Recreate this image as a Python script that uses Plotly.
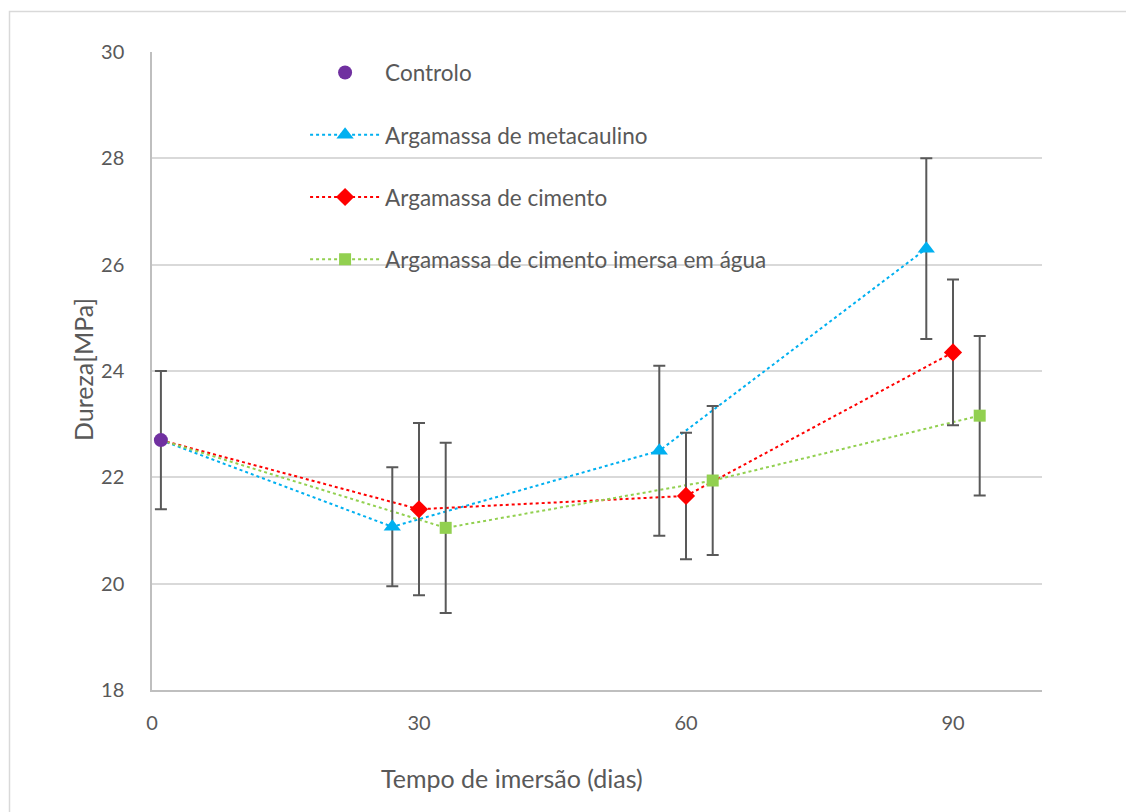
import plotly.graph_objects as go

# ---- data ----
x_controlo = [1]
y_controlo = [22.7]
e_controlo = [1.3]

x_meta = [27, 57, 87]
y_meta = [21.07, 22.5, 26.3]
e_meta = [1.12, 1.6, 1.7]

x_cim = [30, 60, 90]
y_cim = [21.4, 21.65, 24.35]
e_cim = [1.62, 1.19, 1.37]

x_agua = [33, 63, 93]
y_agua = [21.05, 21.94, 23.16]
e_agua = [1.6, 1.4, 1.5]

names = ["Controlo", "Argamassa de metacaulino", "Argamassa de cimento",
         "Argamassa de cimento imersa em água"]
x_ticks = [0, 30, 60, 90]
y_ticks = [18, 20, 22, 24, 26, 28, 30]

# ---- styles ----
C_CTRL = "#7030A0"
C_META = "#00B0F0"
C_CIM = "#FF0000"
C_AGUA = "#92D050"
ERR = dict(type="data", visible=True, color="#595959", thickness=2, width=6)
FONT = "Lato, 'Open Sans', sans-serif"
TXT = "#595959"

fig = go.Figure()

series = [
    (x_meta, y_meta, e_meta, C_META, "triangle-up", 15),
    (x_cim, y_cim, e_cim, C_CIM, "diamond", 14),
    (x_agua, y_agua, e_agua, C_AGUA, "square", 12),
]

# dotted connecting lines (start at the control point)
for xs, ys, es, col, sym, sz in series:
    fig.add_trace(go.Scatter(x=x_controlo + xs, y=y_controlo + ys, mode="lines",
                             line=dict(color=col, width=2, dash="dot"),
                             showlegend=False, hoverinfo="skip"))

# markers with error bars
for xs, ys, es, col, sym, sz in series:
    fig.add_trace(go.Scatter(x=xs, y=ys, mode="markers",
                             marker=dict(color=col, symbol=sym, size=sz),
                             error_y=dict(array=es, **ERR), showlegend=False))

fig.add_trace(go.Scatter(x=x_controlo, y=y_controlo, mode="markers",
                         marker=dict(color=C_CTRL, symbol="circle", size=14),
                         error_y=dict(array=e_controlo, **ERR), showlegend=False))

# legend entries
leg = [
    (names[0], "markers", C_CTRL, "circle", 14),
    (names[1], "lines+markers", C_META, "triangle-up", 15),
    (names[2], "lines+markers", C_CIM, "diamond", 14),
    (names[3], "lines+markers", C_AGUA, "square", 12),
]
for i, (nm, md, col, sym, sz) in enumerate(leg):
    fig.add_trace(go.Scatter(x=[None], y=[None], mode=md, name=nm,
                             legendgroup=f"g{i}",
                             line=dict(color=col, width=2, dash="dot"),
                             marker=dict(color=col, symbol=sym, size=sz)))

fig.update_layout(
    width=1126, height=812,
    margin=dict(l=152, r=84, t=52, b=122),
    paper_bgcolor="white", plot_bgcolor="white",
    font=dict(family=FONT, color=TXT, size=20),
    showlegend=True,
    legend=dict(x=0.172, y=1.001, xanchor="left", yanchor="top",
                bgcolor="rgba(0,0,0,0)", font=dict(size=22.5, color=TXT),
                tracegroupgap=30, itemwidth=70),
    xaxis=dict(range=[0, 100], tickvals=x_ticks, showgrid=False,
               showline=True, linecolor="#BFBFBF", linewidth=1.5,
               ticks="", zeroline=False, tickfont=dict(size=20, color=TXT),
               ticklabelstandoff=14),
    yaxis=dict(range=[18, 30], tickvals=y_ticks, showgrid=True,
               gridcolor="#D9D9D9", gridwidth=1.5,
               showline=True, linecolor="#BFBFBF", linewidth=1.5,
               ticks="", zeroline=False, tickfont=dict(size=20, color=TXT),
               ticklabelstandoff=22),
    annotations=[
        dict(text="Tempo de imersão (dias)", xref="paper", yref="paper",
             x=(512 - 152) / 890, y=-(778 - 690) / 638, showarrow=False,
             xanchor="center", yanchor="middle", font=dict(size=25, color=TXT)),
        dict(text="Dureza[MPa]", xref="paper", yref="paper",
             x=-(152 - 83) / 890, y=(690 - 370) / 638, showarrow=False,
             textangle=-90, xanchor="center", yanchor="middle",
             font=dict(size=25, color=TXT)),
    ],
    shapes=[
        dict(type="rect", xref="paper", yref="paper",
             x0=-(152 - 9.5) / 890, x1=1.2, y0=-0.3, y1=(690 - 11.5) / 638,
             line=dict(color="#D9D9D9", width=1.5), fillcolor="rgba(0,0,0,0)",
             layer="below"),
    ],
)

fig.write_html("out.html")
